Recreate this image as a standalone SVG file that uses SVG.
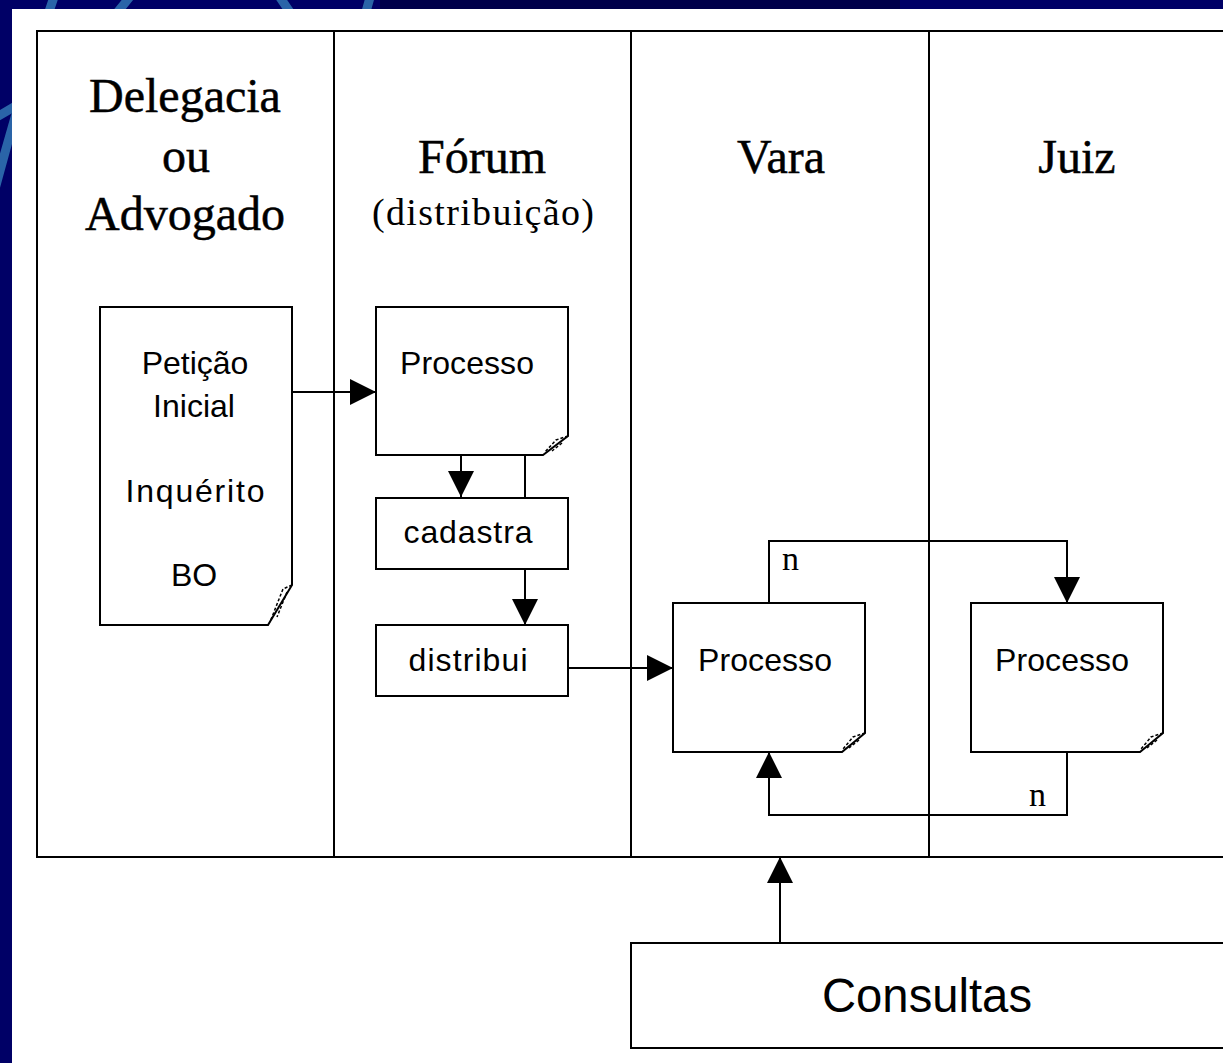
<svg xmlns="http://www.w3.org/2000/svg" width="1223" height="1063" viewBox="0 0 1223 1063">
<defs>
<style>
.ln{fill:none;stroke:#000;stroke-width:2}
.box{fill:#fff;stroke:#000;stroke-width:2}
.fold{fill:none;stroke:#000;stroke-width:1.5}
.ttl{font-family:"Liberation Serif","Times New Roman",serif;font-size:48px;fill:#000;stroke:#000;stroke-width:0.5;text-anchor:middle}
.sub{font-family:"Liberation Serif","Times New Roman",serif;font-size:38px;fill:#000;text-anchor:middle}
.lbl{font-family:"Liberation Sans",Arial,sans-serif;font-size:32px;fill:#000;text-anchor:middle}
.big{font-family:"Liberation Sans",Arial,sans-serif;font-size:48px;fill:#000;text-anchor:middle}
.n{font-family:"Liberation Serif","Times New Roman",serif;font-size:34px;fill:#000}
.deco{fill:none;stroke:#2a64a8;stroke-width:9}
</style>
<marker id="ah" markerUnits="userSpaceOnUse" markerWidth="28" markerHeight="28" refX="26" refY="13" orient="auto">
<path d="M0,0 L26,13 L0,26 Z" fill="#000"/>
</marker>
</defs>
<g id="background">
<rect x="0" y="0" width="1223" height="1063" fill="#000066"/>
<rect x="380" y="0" width="520" height="9" fill="#00004a"/>
<path class="deco" d="M-20,250 Q10,120 60,-20"/>
<path class="deco" d="M-20,125 Q60,90 135,-10"/>
<path class="deco" d="M275,-10 Q285,5 292,15"/>
<path class="deco" d="M365,15 Q368,5 372,-10"/>
</g>
<rect id="page" x="12" y="9" width="1211" height="1054" fill="#fff"/>
<g id="lanes">
<path class="ln" d="M1223,31 H37 V857 H1223"/>
<path class="ln" d="M334,31 V857 M631,31 V857 M929,31 V857"/>
<text class="ttl" x="185" y="112">Delegacia</text>
<text class="ttl" x="186" y="172">ou</text>
<text class="ttl" x="185" y="230">Advogado</text>
<text class="ttl" x="482" y="173">Fórum</text>
<text class="sub" x="483" y="225" textLength="222" lengthAdjust="spacing">(distribuição)</text>
<text class="ttl" x="781" y="173">Vara</text>
<text class="ttl" x="1077" y="173">Juiz</text>
</g>
<g id="node-peticao">
<path class="box" d="M100,307 H292 V585 L268,625 H100 Z"/>
<path class="fold" d="M292,585 L283,589 L270,622 M287,592 L277,617" stroke-dasharray="3,2"/>
<text class="lbl" x="195" y="374">Petição</text>
<text class="lbl" x="194" y="417">Inicial</text>
<text class="lbl" x="195" y="502" textLength="139" lengthAdjust="spacing">Inquérito</text>
<text class="lbl" x="194" y="586">BO</text>
</g>
<g id="node-processo-forum">
<path class="box" d="M376,307 H568 V436 L543,455 H376 Z"/>
<path class="fold" d="M568,436 L556,440 L545,452 M562,443 L552,451" stroke-dasharray="3,2"/>
<text class="lbl" x="467" y="374" textLength="134" lengthAdjust="spacing">Processo</text>
</g>
<g id="node-cadastra">
<rect class="box" x="376" y="498" width="192" height="71"/>
<text class="lbl" x="468" y="543" textLength="129" lengthAdjust="spacing">cadastra</text>
</g>
<g id="node-distribui">
<rect class="box" x="376" y="625" width="192" height="71"/>
<text class="lbl" x="468" y="671" textLength="119" lengthAdjust="spacing">distribui</text>
</g>
<g id="node-processo-vara">
<path class="box" d="M673,603 H865 V733 L842,752 H673 Z"/>
<path class="fold" d="M865,733 L853,737 L843,749 M859,740 L849,748" stroke-dasharray="3,2"/>
<text class="lbl" x="765" y="671" textLength="134" lengthAdjust="spacing">Processo</text>
</g>
<g id="node-processo-juiz">
<path class="box" d="M971,603 H1163 V733 L1140,752 H971 Z"/>
<path class="fold" d="M1163,733 L1151,737 L1141,749 M1157,740 L1147,748" stroke-dasharray="3,2"/>
<text class="lbl" x="1062" y="671" textLength="134" lengthAdjust="spacing">Processo</text>
</g>
<g id="node-consultas">
<rect class="box" x="631" y="943" width="620" height="105"/>
<text class="big" x="927" y="1012" textLength="210" lengthAdjust="spacingAndGlyphs">Consultas</text>
</g>
<g id="connectors">
<path class="ln" d="M292,392 H376" marker-end="url(#ah)"/>
<path class="ln" d="M461,455 V497" marker-end="url(#ah)"/>
<path class="ln" d="M525,455 V498"/>
<path class="ln" d="M525,569 V625" marker-end="url(#ah)"/>
<path class="ln" d="M568,668 H673" marker-end="url(#ah)"/>
<path class="ln" d="M769,603 V541 H1067 V603" marker-end="url(#ah)"/>
<path class="ln" d="M1067,752 V815 H769 V752" marker-end="url(#ah)"/>
<path class="ln" d="M780,943 V857" marker-end="url(#ah)"/>
<text class="n" x="782" y="570">n</text>
<text class="n" x="1029" y="806">n</text>
</g>
</svg>
